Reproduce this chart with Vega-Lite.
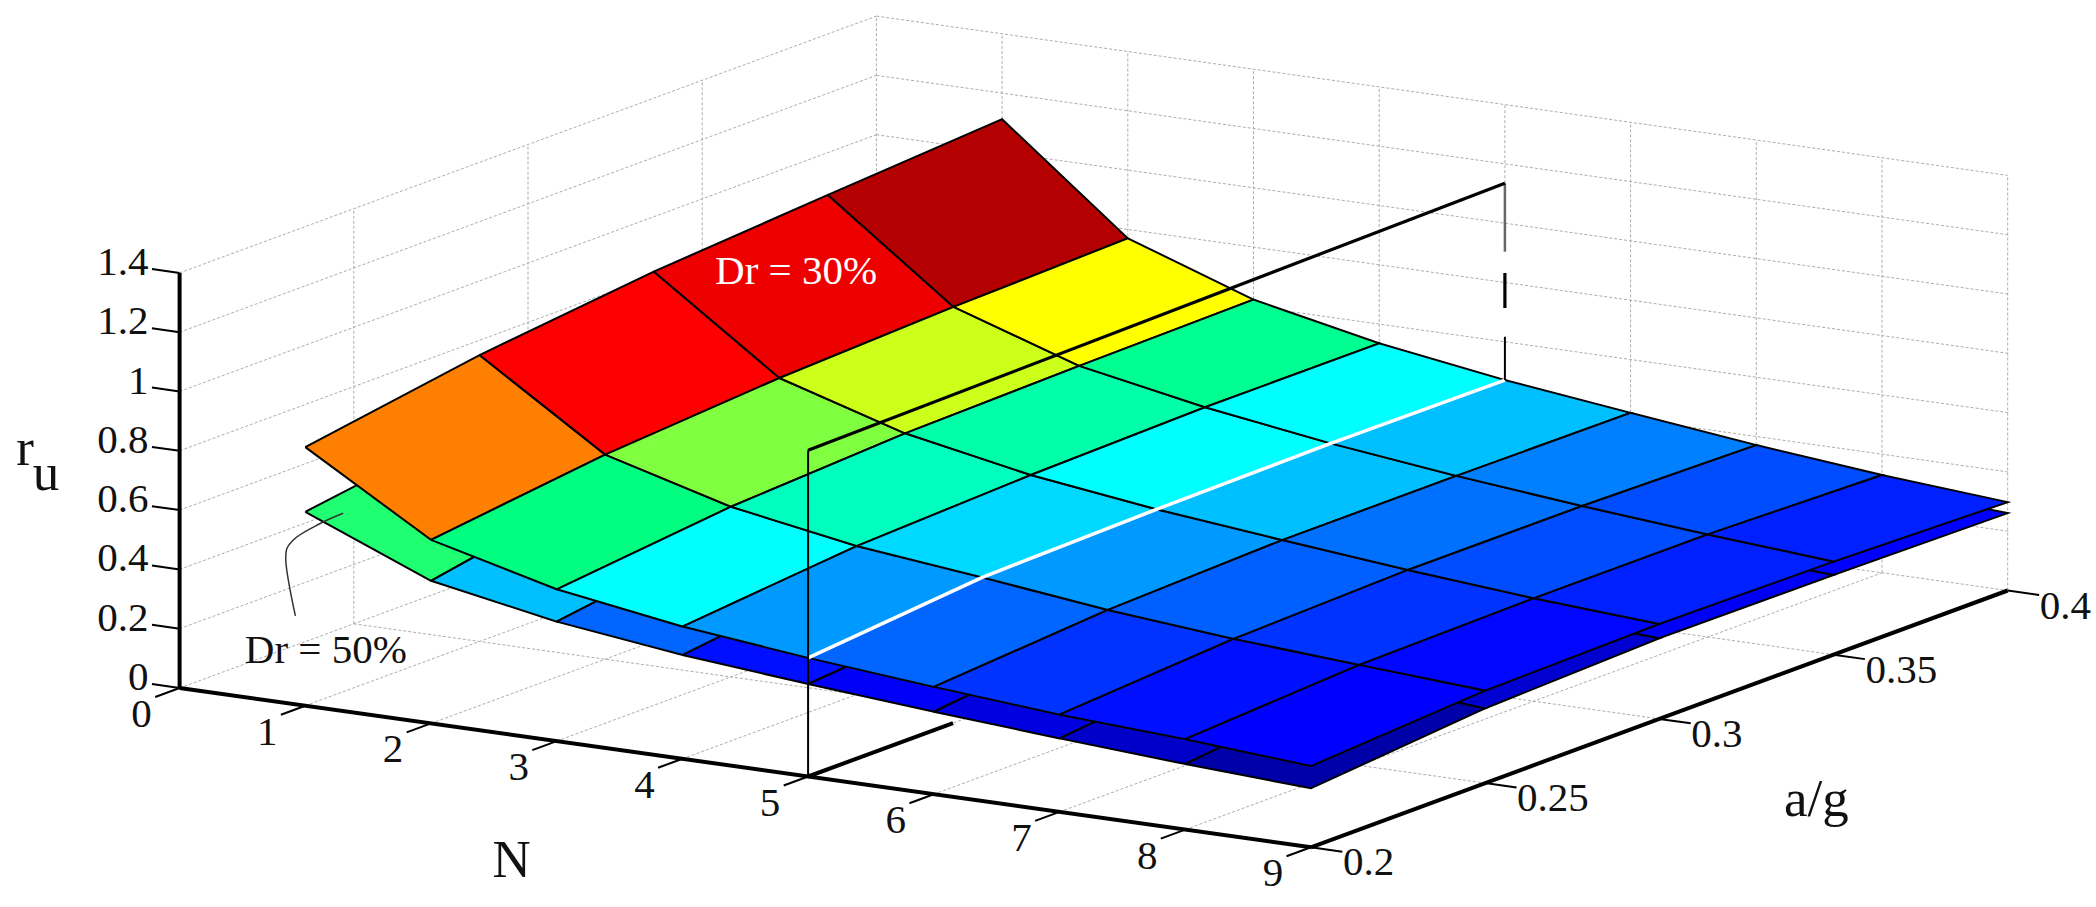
{"$schema":"https://vega.github.io/schema/vega-lite/v6.json","width":2096,"height":907,"autosize":{"type":"fit","contains":"padding"},"padding":0,"background":"white","view":{"stroke":null},
"data":{"values":[
{"kind":"grid","id":"f0","k":[0,1],"N":[0,0],"ag":[0.2,0.4],"ru":[0,0]},
{"kind":"grid","id":"f1","k":[0,1],"N":[1,1],"ag":[0.2,0.4],"ru":[0,0]},
{"kind":"grid","id":"f2","k":[0,1],"N":[2,2],"ag":[0.2,0.4],"ru":[0,0]},
{"kind":"grid","id":"f3","k":[0,1],"N":[3,3],"ag":[0.2,0.4],"ru":[0,0]},
{"kind":"grid","id":"f4","k":[0,1],"N":[4,4],"ag":[0.2,0.4],"ru":[0,0]},
{"kind":"grid","id":"f5","k":[0,1],"N":[5,5],"ag":[0.2,0.4],"ru":[0,0]},
{"kind":"grid","id":"f6","k":[0,1],"N":[6,6],"ag":[0.2,0.4],"ru":[0,0]},
{"kind":"grid","id":"f7","k":[0,1],"N":[7,7],"ag":[0.2,0.4],"ru":[0,0]},
{"kind":"grid","id":"f8","k":[0,1],"N":[8,8],"ag":[0.2,0.4],"ru":[0,0]},
{"kind":"grid","id":"g25","k":[0,1],"N":[0,9],"ag":[0.25,0.25],"ru":[0,0]},
{"kind":"grid","id":"g30","k":[0,1],"N":[0,9],"ag":[0.3,0.3],"ru":[0,0]},
{"kind":"grid","id":"g35","k":[0,1],"N":[0,9],"ag":[0.35,0.35],"ru":[0,0]},
{"kind":"grid","id":"g40","k":[0,1],"N":[0,9],"ag":[0.4,0.4],"ru":[0,0]},
{"kind":"grid","id":"wv25","k":[0,1],"N":[0,0],"ag":[0.25,0.25],"ru":[0,1.4]},
{"kind":"grid","id":"wv30","k":[0,1],"N":[0,0],"ag":[0.3,0.3],"ru":[0,1.4]},
{"kind":"grid","id":"wv35","k":[0,1],"N":[0,0],"ag":[0.35,0.35],"ru":[0,1.4]},
{"kind":"grid","id":"wv40","k":[0,1],"N":[0,0],"ag":[0.4,0.4],"ru":[0,1.4]},
{"kind":"grid","id":"wh02","k":[0,1],"N":[0,0],"ag":[0.2,0.4],"ru":[0.2,0.2]},
{"kind":"grid","id":"wh04","k":[0,1],"N":[0,0],"ag":[0.2,0.4],"ru":[0.4,0.4]},
{"kind":"grid","id":"wh06","k":[0,1],"N":[0,0],"ag":[0.2,0.4],"ru":[0.6,0.6]},
{"kind":"grid","id":"wh08","k":[0,1],"N":[0,0],"ag":[0.2,0.4],"ru":[0.8,0.8]},
{"kind":"grid","id":"wh10","k":[0,1],"N":[0,0],"ag":[0.2,0.4],"ru":[1,1]},
{"kind":"grid","id":"wh12","k":[0,1],"N":[0,0],"ag":[0.2,0.4],"ru":[1.2,1.2]},
{"kind":"grid","id":"wh14","k":[0,1],"N":[0,0],"ag":[0.2,0.4],"ru":[1.4,1.4]},
{"kind":"grid","id":"bv1","k":[0,1],"N":[1,1],"ag":[0.4,0.4],"ru":[0,1.4]},
{"kind":"grid","id":"bv2","k":[0,1],"N":[2,2],"ag":[0.4,0.4],"ru":[0,1.4]},
{"kind":"grid","id":"bv3","k":[0,1],"N":[3,3],"ag":[0.4,0.4],"ru":[0,1.4]},
{"kind":"grid","id":"bv4","k":[0,1],"N":[4,4],"ag":[0.4,0.4],"ru":[0,1.4]},
{"kind":"grid","id":"bv5","k":[0,1],"N":[5,5],"ag":[0.4,0.4],"ru":[1.135,1.4]},
{"kind":"grid","id":"bv6","k":[0,1],"N":[6,6],"ag":[0.4,0.4],"ru":[0,1.4]},
{"kind":"grid","id":"bv7","k":[0,1],"N":[7,7],"ag":[0.4,0.4],"ru":[0,1.4]},
{"kind":"grid","id":"bv8","k":[0,1],"N":[8,8],"ag":[0.4,0.4],"ru":[0,1.4]},
{"kind":"grid","id":"bv9","k":[0,1],"N":[9,9],"ag":[0.4,0.4],"ru":[0,1.4]},
{"kind":"grid","id":"bh02","k":[0,1],"N":[0,9],"ag":[0.4,0.4],"ru":[0.2,0.2]},
{"kind":"grid","id":"bh04","k":[0,1],"N":[0,9],"ag":[0.4,0.4],"ru":[0.4,0.4]},
{"kind":"grid","id":"bh06","k":[0,1],"N":[0,9],"ag":[0.4,0.4],"ru":[0.6,0.6]},
{"kind":"grid","id":"bh08","k":[0,1],"N":[0,9],"ag":[0.4,0.4],"ru":[0.8,0.8]},
{"kind":"grid","id":"bh10","k":[0,1],"N":[0,9],"ag":[0.4,0.4],"ru":[1,1]},
{"kind":"grid","id":"bh12","k":[0,1],"N":[0,9],"ag":[0.4,0.4],"ru":[1.2,1.2]},
{"kind":"grid","id":"bh14","k":[0,1],"N":[0,9],"ag":[0.4,0.4],"ru":[1.4,1.4]},
{"kind":"axis","id":"axN","k":[0,1],"N":[0,9],"ag":[0.2,0.2],"ru":[0,0]},
{"kind":"axis","id":"axG","k":[0,1],"N":[9,9],"ag":[0.2,0.4],"ru":[0,0]},
{"kind":"axis","id":"axR","k":[0,1],"N":[0,0],"ag":[0.2,0.2],"ru":[0,1.4]},
{"kind":"axis","id":"slFloor","k":[0,1],"N":[5,5],"ag":[0.2,0.2416],"ru":[0,0]},
{"kind":"tick","id":"tr0","k":[0,1],"N":[-0.22,0],"ag":[0.2,0.2],"ru":[0,0]},
{"kind":"tick","id":"tr2","k":[0,1],"N":[-0.22,0],"ag":[0.2,0.2],"ru":[0.2,0.2]},
{"kind":"tick","id":"tr4","k":[0,1],"N":[-0.22,0],"ag":[0.2,0.2],"ru":[0.4,0.4]},
{"kind":"tick","id":"tr6","k":[0,1],"N":[-0.22,0],"ag":[0.2,0.2],"ru":[0.6,0.6]},
{"kind":"tick","id":"tr8","k":[0,1],"N":[-0.22,0],"ag":[0.2,0.2],"ru":[0.8,0.8]},
{"kind":"tick","id":"tr10","k":[0,1],"N":[-0.22,0],"ag":[0.2,0.2],"ru":[1,1]},
{"kind":"tick","id":"tr12","k":[0,1],"N":[-0.22,0],"ag":[0.2,0.2],"ru":[1.2,1.2]},
{"kind":"tick","id":"tr14","k":[0,1],"N":[-0.22,0],"ag":[0.2,0.2],"ru":[1.4,1.4]},
{"kind":"tick","id":"tn0","k":[0,1],"N":[0,0],"ag":[0.193,0.2],"ru":[0,0]},
{"kind":"tick","id":"tn1","k":[0,1],"N":[1,1],"ag":[0.193,0.2],"ru":[0,0]},
{"kind":"tick","id":"tn2","k":[0,1],"N":[2,2],"ag":[0.193,0.2],"ru":[0,0]},
{"kind":"tick","id":"tn3","k":[0,1],"N":[3,3],"ag":[0.193,0.2],"ru":[0,0]},
{"kind":"tick","id":"tn4","k":[0,1],"N":[4,4],"ag":[0.193,0.2],"ru":[0,0]},
{"kind":"tick","id":"tn5","k":[0,1],"N":[5,5],"ag":[0.193,0.2],"ru":[0,0]},
{"kind":"tick","id":"tn6","k":[0,1],"N":[6,6],"ag":[0.193,0.2],"ru":[0,0]},
{"kind":"tick","id":"tn7","k":[0,1],"N":[7,7],"ag":[0.193,0.2],"ru":[0,0]},
{"kind":"tick","id":"tn8","k":[0,1],"N":[8,8],"ag":[0.193,0.2],"ru":[0,0]},
{"kind":"tick","id":"tn9","k":[0,1],"N":[9,9],"ag":[0.193,0.2],"ru":[0,0]},
{"kind":"tick","id":"tg20","k":[0,1],"N":[9,9.25],"ag":[0.2,0.2],"ru":[0,0]},
{"kind":"tick","id":"tg25","k":[0,1],"N":[9,9.25],"ag":[0.25,0.25],"ru":[0,0]},
{"kind":"tick","id":"tg30","k":[0,1],"N":[9,9.25],"ag":[0.3,0.3],"ru":[0,0]},
{"kind":"tick","id":"tg35","k":[0,1],"N":[9,9.25],"ag":[0.35,0.35],"ru":[0,0]},
{"kind":"tick","id":"tg40","k":[0,1],"N":[9,9.25],"ag":[0.4,0.4],"ru":[0,0]},
{"kind":"cell50","id":"L1-0","level":0.612,"k":[0,1,2,3,4],"N":[1,2,2,1,1],"ag":[0.2,0.2,0.25,0.25,0.2],"ru":[0.654,0.481,0.59,0.741,0.654]},
{"kind":"cell50","id":"L1-1","level":0.65,"k":[0,1,2,3,4],"N":[1,2,2,1,1],"ag":[0.25,0.25,0.3,0.3,0.25],"ru":[0.741,0.59,0.63,0.8,0.741]},
{"kind":"cell50","id":"L1-2","level":0.68,"k":[0,1,2,3,4],"N":[1,2,2,1,1],"ag":[0.3,0.3,0.35,0.35,0.3],"ru":[0.8,0.63,0.65,0.84,0.8]},
{"kind":"cell50","id":"L1-3","level":0.7,"k":[0,1,2,3,4],"N":[1,2,2,1,1],"ag":[0.35,0.35,0.4,0.4,0.35],"ru":[0.84,0.65,0.66,0.87,0.84]},
{"kind":"cell50","id":"L2-0","level":0.45,"k":[0,1,2,3,4],"N":[2,3,3,2,2],"ag":[0.2,0.2,0.25,0.25,0.2],"ru":[0.481,0.403,0.489,0.59,0.481]},
{"kind":"cell50","id":"L2-1","level":0.52,"k":[0,1,2,3,4],"N":[2,3,3,2,2],"ag":[0.25,0.25,0.3,0.3,0.25],"ru":[0.59,0.489,0.515,0.63,0.59]},
{"kind":"cell50","id":"L2-2","level":0.55,"k":[0,1,2,3,4],"N":[2,3,3,2,2],"ag":[0.3,0.3,0.35,0.35,0.3],"ru":[0.63,0.515,0.525,0.65,0.63]},
{"kind":"cell50","id":"L2-3","level":0.56,"k":[0,1,2,3,4],"N":[2,3,3,2,2],"ag":[0.35,0.35,0.4,0.4,0.35],"ru":[0.65,0.525,0.53,0.66,0.65]},
{"kind":"cell50","id":"L3-0","level":0.38,"k":[0,1,2,3,4],"N":[3,4,4,3,3],"ag":[0.2,0.2,0.25,0.25,0.2],"ru":[0.403,0.35,0.424,0.489,0.403]},
{"kind":"cell50","id":"L3-1","level":0.42,"k":[0,1,2,3,4],"N":[3,4,4,3,3],"ag":[0.25,0.25,0.3,0.3,0.25],"ru":[0.489,0.424,0.445,0.515,0.489]},
{"kind":"cell50","id":"L3-2","level":0.45,"k":[0,1,2,3,4],"N":[3,4,4,3,3],"ag":[0.3,0.3,0.35,0.35,0.3],"ru":[0.515,0.445,0.455,0.525,0.515]},
{"kind":"cell50","id":"L3-3","level":0.46,"k":[0,1,2,3,4],"N":[3,4,4,3,3],"ag":[0.35,0.35,0.4,0.4,0.35],"ru":[0.525,0.455,0.455,0.53,0.525]},
{"kind":"cell50","id":"L4-0","level":0.312,"k":[0,1,2,3,4],"N":[4,5,5,4,4],"ag":[0.2,0.2,0.25,0.25,0.2],"ru":[0.35,0.312,0.36,0.424,0.35]},
{"kind":"cell50","id":"L4-1","level":0.36,"k":[0,1,2,3,4],"N":[4,5,5,4,4],"ag":[0.25,0.25,0.3,0.3,0.25],"ru":[0.424,0.36,0.375,0.445,0.424]},
{"kind":"cell50","id":"L4-2","level":0.38,"k":[0,1,2,3,4],"N":[4,5,5,4,4],"ag":[0.3,0.3,0.35,0.35,0.3],"ru":[0.445,0.375,0.38,0.455,0.445]},
{"kind":"cell50","id":"L4-3","level":0.39,"k":[0,1,2,3,4],"N":[4,5,5,4,4],"ag":[0.35,0.35,0.4,0.4,0.35],"ru":[0.455,0.38,0.38,0.455,0.455]},
{"kind":"cell50","id":"L5-0","level":0.29,"k":[0,1,2,3,4],"N":[5,6,6,5,5],"ag":[0.2,0.2,0.25,0.25,0.2],"ru":[0.312,0.278,0.344,0.36,0.312]},
{"kind":"cell50","id":"L5-1","level":0.33,"k":[0,1,2,3,4],"N":[5,6,6,5,5],"ag":[0.25,0.25,0.3,0.3,0.25],"ru":[0.36,0.344,0.35,0.375,0.36]},
{"kind":"cell50","id":"L5-2","level":0.34,"k":[0,1,2,3,4],"N":[5,6,6,5,5],"ag":[0.3,0.3,0.35,0.35,0.3],"ru":[0.375,0.35,0.35,0.38,0.375]},
{"kind":"cell50","id":"L5-3","level":0.34,"k":[0,1,2,3,4],"N":[5,6,6,5,5],"ag":[0.35,0.35,0.4,0.4,0.35],"ru":[0.38,0.35,0.345,0.38,0.38]},
{"kind":"cell50","id":"L6-0","level":0.267,"k":[0,1,2,3,4],"N":[6,7,7,6,6],"ag":[0.2,0.2,0.25,0.25,0.2],"ru":[0.278,0.248,0.307,0.344,0.278]},
{"kind":"cell50","id":"L6-1","level":0.31,"k":[0,1,2,3,4],"N":[6,7,7,6,6],"ag":[0.25,0.25,0.3,0.3,0.25],"ru":[0.344,0.307,0.32,0.35,0.344]},
{"kind":"cell50","id":"L6-2","level":0.32,"k":[0,1,2,3,4],"N":[6,7,7,6,6],"ag":[0.3,0.3,0.35,0.35,0.3],"ru":[0.35,0.32,0.32,0.35,0.35]},
{"kind":"cell50","id":"L6-3","level":0.32,"k":[0,1,2,3,4],"N":[6,7,7,6,6],"ag":[0.35,0.35,0.4,0.4,0.35],"ru":[0.35,0.32,0.31,0.345,0.35]},
{"kind":"cell50","id":"L7-0","level":0.243,"k":[0,1,2,3,4],"N":[7,8,8,7,7],"ag":[0.2,0.2,0.25,0.25,0.2],"ru":[0.248,0.221,0.286,0.307,0.248]},
{"kind":"cell50","id":"L7-1","level":0.28,"k":[0,1,2,3,4],"N":[7,8,8,7,7],"ag":[0.25,0.25,0.3,0.3,0.25],"ru":[0.307,0.286,0.295,0.32,0.307]},
{"kind":"cell50","id":"L7-2","level":0.29,"k":[0,1,2,3,4],"N":[7,8,8,7,7],"ag":[0.3,0.3,0.35,0.35,0.3],"ru":[0.32,0.295,0.295,0.32,0.32]},
{"kind":"cell50","id":"L7-3","level":0.29,"k":[0,1,2,3,4],"N":[7,8,8,7,7],"ag":[0.35,0.35,0.4,0.4,0.35],"ru":[0.32,0.295,0.285,0.31,0.32]},
{"kind":"cell50","id":"L8-0","level":0.21,"k":[0,1,2,3,4],"N":[8,9,9,8,8],"ag":[0.2,0.2,0.25,0.25,0.2],"ru":[0.221,0.199,0.252,0.286,0.221]},
{"kind":"cell50","id":"L8-1","level":0.25,"k":[0,1,2,3,4],"N":[8,9,9,8,8],"ag":[0.25,0.25,0.3,0.3,0.25],"ru":[0.286,0.252,0.272,0.295,0.286]},
{"kind":"cell50","id":"L8-2","level":0.29,"k":[0,1,2,3,4],"N":[8,9,9,8,8],"ag":[0.3,0.3,0.35,0.35,0.3],"ru":[0.295,0.272,0.269,0.295,0.295]},
{"kind":"cell50","id":"L8-3","level":0.3,"k":[0,1,2,3,4],"N":[8,9,9,8,8],"ag":[0.35,0.35,0.4,0.4,0.35],"ru":[0.295,0.269,0.261,0.285,0.295]},
{"kind":"cell30","id":"U1-0","level":0.8,"k":[0,1,2,3,4],"N":[1,2,2,1,1],"ag":[0.2,0.2,0.25,0.25,0.2],"ru":[0.872,0.619,0.69,0.966,0.872]},
{"kind":"cell30","id":"U1-1","level":0.85,"k":[0,1,2,3,4],"N":[1,2,2,1,1],"ag":[0.25,0.25,0.3,0.3,0.25],"ru":[0.966,0.69,0.732,1.031,0.966]},
{"kind":"cell30","id":"U1-2","level":0.87,"k":[0,1,2,3,4],"N":[1,2,2,1,1],"ag":[0.3,0.3,0.35,0.35,0.3],"ru":[1.031,0.732,0.755,1.073,1.031]},
{"kind":"cell30","id":"U1-3","level":0.945,"k":[0,1,2,3,4],"N":[1,2,2,1,1],"ag":[0.35,0.35,0.4,0.4,0.35],"ru":[1.073,0.755,0.77,1.112,1.073]},
{"kind":"cell30","id":"U2-0","level":0.6,"k":[0,1,2,3,4],"N":[2,3,3,2,2],"ag":[0.2,0.2,0.25,0.25,0.2],"ru":[0.619,0.512,0.574,0.69,0.619]},
{"kind":"cell30","id":"U2-1","level":0.65,"k":[0,1,2,3,4],"N":[2,3,3,2,2],"ag":[0.25,0.25,0.3,0.3,0.25],"ru":[0.69,0.574,0.605,0.732,0.69]},
{"kind":"cell30","id":"U2-2","level":0.68,"k":[0,1,2,3,4],"N":[2,3,3,2,2],"ag":[0.3,0.3,0.35,0.35,0.3],"ru":[0.732,0.605,0.616,0.755,0.732]},
{"kind":"cell30","id":"U2-3","level":0.7,"k":[0,1,2,3,4],"N":[2,3,3,2,2],"ag":[0.35,0.35,0.4,0.4,0.35],"ru":[0.755,0.616,0.623,0.77,0.755]},
{"kind":"cell30","id":"U3-0","level":0.5,"k":[0,1,2,3,4],"N":[3,4,4,3,3],"ag":[0.2,0.2,0.25,0.25,0.2],"ru":[0.512,0.446,0.501,0.574,0.512]},
{"kind":"cell30","id":"U3-1","level":0.55,"k":[0,1,2,3,4],"N":[3,4,4,3,3],"ag":[0.25,0.25,0.3,0.3,0.25],"ru":[0.574,0.501,0.524,0.605,0.574]},
{"kind":"cell30","id":"U3-2","level":0.568,"k":[0,1,2,3,4],"N":[3,4,4,3,3],"ag":[0.3,0.3,0.35,0.35,0.3],"ru":[0.605,0.524,0.536,0.616,0.605]},
{"kind":"cell30","id":"U3-3","level":0.587,"k":[0,1,2,3,4],"N":[3,4,4,3,3],"ag":[0.35,0.35,0.4,0.4,0.35],"ru":[0.616,0.536,0.535,0.623,0.616]},
{"kind":"cell30","id":"U4-0","level":0.42,"k":[0,1,2,3,4],"N":[4,5,5,4,4],"ag":[0.2,0.2,0.25,0.25,0.2],"ru":[0.446,0.4,0.455,0.501,0.446]},
{"kind":"cell30","id":"U4-1","level":0.47,"k":[0,1,2,3,4],"N":[4,5,5,4,4],"ag":[0.25,0.25,0.3,0.3,0.25],"ru":[0.501,0.455,0.468,0.524,0.501]},
{"kind":"cell30","id":"U4-2","level":0.5,"k":[0,1,2,3,4],"N":[4,5,5,4,4],"ag":[0.3,0.3,0.35,0.35,0.3],"ru":[0.524,0.468,0.474,0.536,0.524]},
{"kind":"cell30","id":"U4-3","level":0.5,"k":[0,1,2,3,4],"N":[4,5,5,4,4],"ag":[0.35,0.35,0.4,0.4,0.35],"ru":[0.536,0.474,0.471,0.535,0.536]},
{"kind":"cell30","id":"U5-0","level":0.38,"k":[0,1,2,3,4],"N":[5,6,6,5,5],"ag":[0.2,0.2,0.25,0.25,0.2],"ru":[0.4,0.362,0.405,0.455,0.4]},
{"kind":"cell30","id":"U5-1","level":0.42,"k":[0,1,2,3,4],"N":[5,6,6,5,5],"ag":[0.25,0.25,0.3,0.3,0.25],"ru":[0.455,0.405,0.424,0.468,0.455]},
{"kind":"cell30","id":"U5-2","level":0.45,"k":[0,1,2,3,4],"N":[5,6,6,5,5],"ag":[0.3,0.3,0.35,0.35,0.3],"ru":[0.468,0.424,0.424,0.474,0.468]},
{"kind":"cell30","id":"U5-3","level":0.45,"k":[0,1,2,3,4],"N":[5,6,6,5,5],"ag":[0.35,0.35,0.4,0.4,0.35],"ru":[0.474,0.424,0.42,0.471,0.474]},
{"kind":"cell30","id":"U6-0","level":0.34,"k":[0,1,2,3,4],"N":[6,7,7,6,6],"ag":[0.2,0.2,0.25,0.25,0.2],"ru":[0.362,0.328,0.367,0.405,0.362]},
{"kind":"cell30","id":"U6-1","level":0.375,"k":[0,1,2,3,4],"N":[6,7,7,6,6],"ag":[0.25,0.25,0.3,0.3,0.25],"ru":[0.405,0.367,0.383,0.424,0.405]},
{"kind":"cell30","id":"U6-2","level":0.388,"k":[0,1,2,3,4],"N":[6,7,7,6,6],"ag":[0.3,0.3,0.35,0.35,0.3],"ru":[0.424,0.383,0.382,0.424,0.424]},
{"kind":"cell30","id":"U6-3","level":0.4,"k":[0,1,2,3,4],"N":[6,7,7,6,6],"ag":[0.35,0.35,0.4,0.4,0.35],"ru":[0.424,0.382,0.371,0.42,0.424]},
{"kind":"cell30","id":"U7-0","level":0.312,"k":[0,1,2,3,4],"N":[7,8,8,7,7],"ag":[0.2,0.2,0.25,0.25,0.2],"ru":[0.328,0.305,0.339,0.367,0.328]},
{"kind":"cell30","id":"U7-1","level":0.34,"k":[0,1,2,3,4],"N":[7,8,8,7,7],"ag":[0.25,0.25,0.3,0.3,0.25],"ru":[0.367,0.339,0.347,0.383,0.367]},
{"kind":"cell30","id":"U7-2","level":0.36,"k":[0,1,2,3,4],"N":[7,8,8,7,7],"ag":[0.3,0.3,0.35,0.35,0.3],"ru":[0.383,0.347,0.346,0.382,0.383]},
{"kind":"cell30","id":"U7-3","level":0.36,"k":[0,1,2,3,4],"N":[7,8,8,7,7],"ag":[0.35,0.35,0.4,0.4,0.35],"ru":[0.382,0.346,0.33,0.371,0.382]},
{"kind":"cell30","id":"U8-0","level":0.3,"k":[0,1,2,3,4],"N":[8,9,9,8,8],"ag":[0.2,0.2,0.25,0.25,0.2],"ru":[0.305,0.274,0.312,0.339,0.305]},
{"kind":"cell30","id":"U8-1","level":0.305,"k":[0,1,2,3,4],"N":[8,9,9,8,8],"ag":[0.25,0.25,0.3,0.3,0.25],"ru":[0.339,0.312,0.32,0.347,0.339]},
{"kind":"cell30","id":"U8-2","level":0.325,"k":[0,1,2,3,4],"N":[8,9,9,8,8],"ag":[0.3,0.3,0.35,0.35,0.3],"ru":[0.347,0.32,0.314,0.346,0.347]},
{"kind":"cell30","id":"U8-3","level":0.325,"k":[0,1,2,3,4],"N":[8,9,9,8,8],"ag":[0.35,0.35,0.4,0.4,0.35],"ru":[0.346,0.314,0.298,0.33,0.346]},
{"kind":"slice","id":"white","k":[0,1,2,3,4],"N":[5,5,5,5,5],"ag":[0.2,0.25,0.3,0.35,0.4],"ru":[0.4,0.455,0.468,0.474,0.471]},
{"kind":"frameThin","id":"fv","k":[0,1],"N":[5,5],"ag":[0.2,0.2],"ru":[0,1.1]},
{"kind":"frameThin","id":"fb","k":[0,1],"N":[5,5],"ag":[0.4,0.4],"ru":[0.471,0.617]},
{"kind":"frameThick","id":"ft","k":[0,1],"N":[5,5],"ag":[0.2,0.4],"ru":[1.1,1.135]},
{"kind":"frameThick","id":"fm","k":[0,1],"N":[5,5],"ag":[0.4,0.4],"ru":[0.714,0.832]},
{"kind":"frameGray","id":"fg","k":[0,1],"N":[5,5],"ag":[0.4,0.4],"ru":[0.904,1.135]},
{"kind":"leader","id":"lead","k":[0,1,2,3,4],"N":[1,1,1,1,1],"ag":[0.19716,0.1944,0.19658,0.20428,0.21088],"ru":[0.315,0.516,0.574,0.596,0.602]},
{"kind":"rlabel","id":"a","label":"0","k":[0],"N":[0],"ag":[0.2],"ru":[0]},
{"kind":"rlabel","id":"b","label":"0.2","k":[0],"N":[0],"ag":[0.2],"ru":[0.2]},
{"kind":"rlabel","id":"c","label":"0.4","k":[0],"N":[0],"ag":[0.2],"ru":[0.4]},
{"kind":"rlabel","id":"d","label":"0.6","k":[0],"N":[0],"ag":[0.2],"ru":[0.6]},
{"kind":"rlabel","id":"e","label":"0.8","k":[0],"N":[0],"ag":[0.2],"ru":[0.8]},
{"kind":"rlabel","id":"f","label":"1","k":[0],"N":[0],"ag":[0.2],"ru":[1]},
{"kind":"rlabel","id":"g","label":"1.2","k":[0],"N":[0],"ag":[0.2],"ru":[1.2]},
{"kind":"rlabel","id":"h","label":"1.4","k":[0],"N":[0],"ag":[0.2],"ru":[1.4]},
{"kind":"nlabel","id":"n0","label":"0","k":[0],"N":[0],"ag":[0.2],"ru":[0]},
{"kind":"nlabel","id":"n1","label":"1","k":[0],"N":[1],"ag":[0.2],"ru":[0]},
{"kind":"nlabel","id":"n2","label":"2","k":[0],"N":[2],"ag":[0.2],"ru":[0]},
{"kind":"nlabel","id":"n3","label":"3","k":[0],"N":[3],"ag":[0.2],"ru":[0]},
{"kind":"nlabel","id":"n4","label":"4","k":[0],"N":[4],"ag":[0.2],"ru":[0]},
{"kind":"nlabel","id":"n5","label":"5","k":[0],"N":[5],"ag":[0.2],"ru":[0]},
{"kind":"nlabel","id":"n6","label":"6","k":[0],"N":[6],"ag":[0.2],"ru":[0]},
{"kind":"nlabel","id":"n7","label":"7","k":[0],"N":[7],"ag":[0.2],"ru":[0]},
{"kind":"nlabel","id":"n8","label":"8","k":[0],"N":[8],"ag":[0.2],"ru":[0]},
{"kind":"nlabel","id":"n9","label":"9","k":[0],"N":[9],"ag":[0.2],"ru":[0]},
{"kind":"glabel","id":"g1","label":"0.2","k":[0],"N":[9],"ag":[0.2],"ru":[0]},
{"kind":"glabel","id":"g2","label":"0.25","k":[0],"N":[9],"ag":[0.25],"ru":[0]},
{"kind":"glabel","id":"g3","label":"0.3","k":[0],"N":[9],"ag":[0.3],"ru":[0]},
{"kind":"glabel","id":"g4","label":"0.35","k":[0],"N":[9],"ag":[0.35],"ru":[0]},
{"kind":"glabel","id":"g5","label":"0.4","k":[0],"N":[9],"ag":[0.4],"ru":[0]},
{"kind":"title","id":"t1","label":"N","k":[0],"N":[4.613],"ag":[0.1289],"ru":[0]},
{"kind":"title","id":"t2","label":"a/g","k":[0],"N":[11.17],"ag":[0.2668],"ru":[0]},
{"kind":"title","id":"t3","label":"r","k":[0],"N":[-1.23],"ag":[0.2],"ru":[0.733]},
{"kind":"title","id":"t4","label":"u","k":[0],"N":[-1.063],"ag":[0.2],"ru":[0.658]},
{"kind":"note30","id":"t5","label":"Dr = 30%","k":[0],"N":[2],"ag":[0.3048],"ru":[1.069]},
{"kind":"note50","id":"t6","label":"Dr = 50%","k":[0],"N":[1],"ag":[0.2059],"ru":[0.16]}
]},
"transform":[
{"flatten":["k","N","ag","ru"]},
{"calculate":"179.6+125.7*datum.N+3484*(datum.ag-0.2)","as":"px"},
{"calculate":"688+17.7*datum.N-1284*(datum.ag-0.2)-296.5*datum.ru","as":"py"}
],
"encoding":{
"x":{"field":"px","type":"quantitative","scale":{"domain":[0,2096],"nice":false,"zero":false},"axis":null},
"y":{"field":"py","type":"quantitative","scale":{"domain":[907,0],"nice":false,"zero":false},"axis":null},
"order":{"field":"k","type":"quantitative"},
"detail":{"field":"id","type":"nominal"}
},
"layer":[
{"transform":[{"filter":{"field":"kind","equal":"grid"}}],"mark":{"type":"line","stroke":"#adadad","strokeWidth":1,"strokeDash":[3,2]}},
{"transform":[{"filter":{"field":"kind","equal":"axis"}}],"mark":{"type":"line","stroke":"#000000","strokeWidth":4}},
{"transform":[{"filter":{"field":"kind","equal":"tick"}}],"mark":{"type":"line","stroke":"#000000","strokeWidth":2}},
{"transform":[{"filter":{"field":"kind","equal":"cell50"}}],"mark":{"type":"line","stroke":"#000000","strokeWidth":2,"strokeJoin":"miter"},"encoding":{"fill":{"field":"level","type":"quantitative","legend":null,"scale":{"domain":[0.2,0.3,0.5,0.6,0.7,0.8,0.85,0.95],"range":["#0000a0","#0000ff","#00ffff","#00ff80","#ffff00","#ff8000","#ff0000","#b00000"],"interpolate":"rgb"}}}},
{"transform":[{"filter":{"field":"kind","equal":"cell30"}}],"mark":{"type":"line","stroke":"#000000","strokeWidth":2,"strokeJoin":"miter"},"encoding":{"fill":{"field":"level","type":"quantitative","legend":null,"scale":{"domain":[0.2,0.3,0.5,0.6,0.7,0.8,0.85,0.95],"range":["#0000a0","#0000ff","#00ffff","#00ff80","#ffff00","#ff8000","#ff0000","#b00000"],"interpolate":"rgb"}}}},
{"transform":[{"filter":{"field":"kind","equal":"slice"}}],"mark":{"type":"line","stroke":"#ffffff","strokeWidth":3.5}},
{"transform":[{"filter":{"field":"kind","equal":"frameGray"}}],"mark":{"type":"line","stroke":"#666666","strokeWidth":2.5}},
{"transform":[{"filter":{"field":"kind","equal":"frameThin"}}],"mark":{"type":"line","stroke":"#000000","strokeWidth":2}},
{"transform":[{"filter":{"field":"kind","equal":"frameThick"}}],"mark":{"type":"line","stroke":"#000000","strokeWidth":3.2}},
{"transform":[{"filter":{"field":"kind","equal":"leader"}}],"mark":{"type":"line","stroke":"#333333","strokeWidth":1.5,"interpolate":"cardinal"}},
{"transform":[{"filter":{"field":"kind","equal":"rlabel"}}],"mark":{"type":"text","font":"Liberation Serif","fontSize":41,"align":"right","baseline":"middle","dx":-31,"dy":-10,"fill":"#111111"},"encoding":{"text":{"field":"label"}}},
{"transform":[{"filter":{"field":"kind","equal":"nlabel"}}],"mark":{"type":"text","font":"Liberation Serif","fontSize":41,"align":"center","baseline":"middle","dx":-38,"dy":27,"fill":"#111111"},"encoding":{"text":{"field":"label"}}},
{"transform":[{"filter":{"field":"kind","equal":"glabel"}}],"mark":{"type":"text","font":"Liberation Serif","fontSize":41,"align":"left","baseline":"middle","dx":32,"dy":16,"fill":"#111111"},"encoding":{"text":{"field":"label"}}},
{"transform":[{"filter":{"field":"kind","equal":"title"}}],"mark":{"type":"text","font":"Liberation Serif","fontSize":53,"align":"center","baseline":"middle","fill":"#111111"},"encoding":{"text":{"field":"label"}}},
{"transform":[{"filter":{"field":"kind","equal":"note30"}}],"mark":{"type":"text","font":"Liberation Serif","fontSize":41,"align":"center","baseline":"middle","fill":"#ffffff"},"encoding":{"text":{"field":"label"}}},
{"transform":[{"filter":{"field":"kind","equal":"note50"}}],"mark":{"type":"text","font":"Liberation Serif","fontSize":41,"align":"center","baseline":"middle","fill":"#111111"},"encoding":{"text":{"field":"label"}}}
]}
